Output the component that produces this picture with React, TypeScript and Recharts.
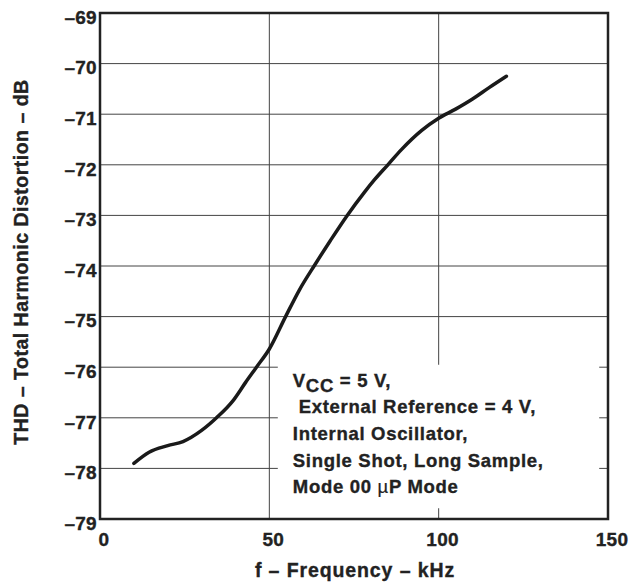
import { LineChart, Line, XAxis, YAxis, CartesianGrid, ReferenceArea } from "recharts";

const freqKHz = [10, 14.5, 20, 24.5, 30, 34.4, 39.3, 43, 46.2, 50, 54.8, 58.9, 63.5, 68, 73, 78, 81, 85, 89, 95, 100, 105, 110, 115, 120];
const thdDb = [-77.9, -77.68, -77.55, -77.47, -77.25, -77.0, -76.66, -76.3, -76.0, -75.64, -75.0, -74.47, -73.97, -73.5, -73.0, -72.55, -72.3, -72.0, -71.7, -71.32, -71.08, -70.9, -70.7, -70.47, -70.25];

const xTicks = [0, 50, 100, 150];
const yTicks = [-79, -78, -77, -76, -75, -74, -73, -72, -71, -70, -69];

const noteLines = [
  " External Reference = 4 V,",
  "Internal Oscillator,",
  "Single Shot, Long Sample,",
];

const data = freqKHz.map((f, i) => ({ f, thd: thdDb[i] }));

const font = "'Liberation Sans', Arial, Helvetica, sans-serif";
const ink = "#222";

// heavier look, like the printed original
const txt = {
  fontFamily: font,
  fontWeight: "bold",
  fill: ink,
  stroke: ink,
  strokeWidth: 0.35,
};

const minus = (v: number) => String(v).replace("-", "\u2013");

function XTick(props: any) {
  const { x, y, payload } = props;
  return (
    <text x={x + 4} y={y + 5} dy="0.72em" textAnchor="middle" fontSize={19} letterSpacing={0.3} {...txt}>
      {payload.value}
    </text>
  );
}

function YTick(props: any) {
  const { x, y, payload } = props;
  return (
    <text x={x + 5} y={y + 4} dy="0.36em" textAnchor="end" fontSize={19} letterSpacing={0.3} {...txt}>
      {minus(payload.value)}
    </text>
  );
}

function NoteText(props: any) {
  const vb = props.viewBox || {};
  const x = vb.x + 15;
  const y = vb.y + 22;
  const step = 26.7;
  const t = { ...txt, fontSize: 18.5, letterSpacing: 0.7 };
  return (
    <g>
      <text x={x} y={y} {...t}>
        V<tspan dy={5}>CC</tspan>
        <tspan dy={-5}> = 5 V,</tspan>
      </text>
      {noteLines.map((s, i) => (
        <text key={i} x={x} y={y + step * (i + 1)} {...t} style={{ whiteSpace: "pre" }}>
          {s}
        </text>
      ))}
      <text x={x} y={y + step * 4} {...t}>
        Mode 00 <tspan fontWeight="normal" strokeWidth={0.2}>µ</tspan>P Mode
      </text>
    </g>
  );
}

export default function App() {
  return (
    <div style={{ position: "absolute", left: 0, top: 0, background: "#fff" }}>
      <LineChart
        width={630}
        height={584}
        data={data}
        margin={{ top: 13, right: 22, bottom: 0, left: 0 }}
      >
        <CartesianGrid stroke="#444" strokeWidth={1} horizontalValues={yTicks} verticalValues={xTicks} />
        <XAxis
          dataKey="f"
          type="number"
          domain={[0, 150]}
          ticks={xTicks}
          height={65}
          axisLine={false}
          tickLine={false}
          tick={<XTick />}
          label={{
            content: () => (
              <text x={355} y={577} textAnchor="middle" fontSize={19.5} letterSpacing={0.9} {...txt}>
                f – Frequency – kHz
              </text>
            ),
          }}
        />
        <YAxis
          type="number"
          domain={[-79, -69]}
          ticks={yTicks}
          width={100}
          axisLine={false}
          tickLine={false}
          tick={<YTick />}
          label={{
            content: () => (
              <text
                x={21}
                y={262}
                transform="rotate(-90 21 262)"
                textAnchor="middle"
                dominantBaseline="central"
                fontSize={19.5}
                letterSpacing={0.5}
                {...txt}
              >
                THD – Total Harmonic Distortion – dB
              </text>
            ),
          }}
        />
        <ReferenceArea
          x1={52.5}
          x2={147.4}
          y1={-78.79}
          y2={-75.95}
          fill="#fff"
          fillOpacity={1}
          stroke="none"
          label={<NoteText />}
        />
        <ReferenceArea x1={0} x2={150} y1={-79} y2={-69} fill="none" stroke={ink} strokeWidth={2.5} />
        <Line
          type="monotone"
          dataKey="thd"
          stroke="#1a1a1a"
          strokeWidth={3.5}
          strokeLinecap="round"
          dot={false}
          isAnimationActive={false}
        />
      </LineChart>
    </div>
  );
}
